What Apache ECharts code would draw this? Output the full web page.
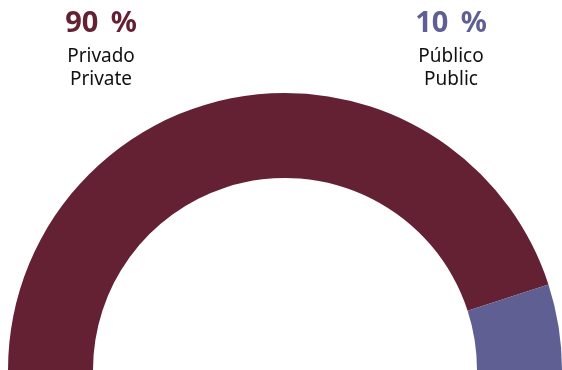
<!DOCTYPE html>
<html><head><meta charset="utf-8">
<script src="https://cdn.jsdelivr.net/npm/echarts@6/dist/echarts.min.js"></script>
<style>html,body{margin:0;padding:0;background:#fff}#c{width:562px;height:370px}</style>
</head><body><div id="c"></div>
<script>
const categories = ['Privado', 'Público'];
const categoriesEn = ['Private', 'Public'];
const values = [90, 10];
const colors = ['#642133', '#5f5f93'];
const labelX = [101, 451];

const chart = echarts.init(document.getElementById('c'));
const graphics = [];
values.forEach((v, i) => {
  graphics.push({
    type: 'text', x: labelX[i], y: 9,
    style: { text: v + '\u2009 %', fill: colors[i], font: 'bold 29px "Noto Sans"', textAlign: 'center' }
  });
  graphics.push({
    type: 'text', x: labelX[i], y: 45,
    style: { text: categories[i] + '\n' + categoriesEn[i], fill: '#111', font: '19px "Noto Sans"', lineHeight: 23, textAlign: 'center' }
  });
});
chart.setOption({
  animation: false,
  series: [{
    type: 'pie',
    center: [285, 370],
    radius: [192, 277],
    startAngle: 180,
    endAngle: 0,
    clockwise: true,
    label: { show: false },
    labelLine: { show: false },
    silent: true,
    data: values.map((v, i) => ({ value: v, name: categories[i], itemStyle: { color: colors[i] } }))
  }],
  graphic: graphics
});
</script></body></html>
